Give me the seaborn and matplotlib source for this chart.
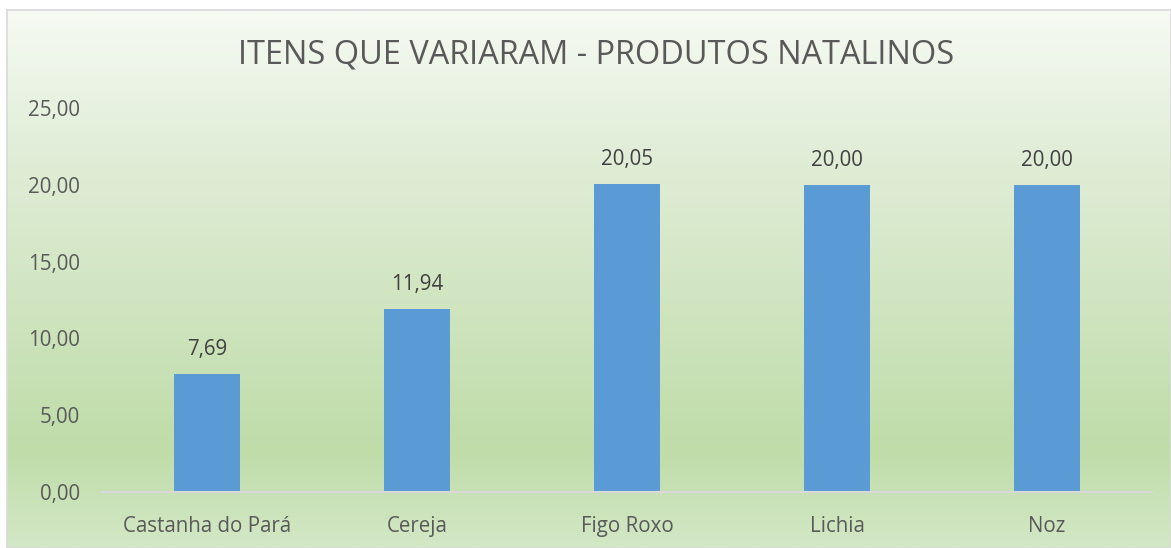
import numpy as np
import pandas as pd
import matplotlib
matplotlib.use("Agg")
import matplotlib.pyplot as plt
from matplotlib.colors import LinearSegmentedColormap
from matplotlib.ticker import FuncFormatter
import seaborn as sns

categories = ["Castanha do Pará", "Cereja", "Figo Roxo", "Lichia", "Noz"]
values = [7.69, 11.94, 20.05, 20.00, 20.00]
title = "ITENS QUE VARIARAM - PRODUTOS NATALINOS"

sns.set_theme(style="white")
plt.rcParams['font.family'] = ['Open Sans', 'DejaVu Sans']

W, H = 1171, 548
fig = plt.figure(figsize=(W / 100, H / 100), dpi=100)

# background gradient (chart area)
bg = fig.add_axes([7 / W, 0, 1 - 7 / W, 1 - 10 / H], zorder=-10)
cmap = LinearSegmentedColormap.from_list(
    "g", [(0.0, "#f6faf3"), (0.25, "#e2eed9"), (0.82, "#bfdca9"), (1.0, "#d3e8c6")])
grad = np.linspace(0, 1, 512).reshape(-1, 1)
bg.imshow(grad, aspect="auto", cmap=cmap, extent=[0, 1, 0, 1], origin="upper")
bg.set_xlim(0, 1)
bg.set_ylim(0, 1)
for s in bg.spines.values():
    s.set_edgecolor("#d9d9d9")
    s.set_linewidth(1.2)
bg.set_xticks([])
bg.set_yticks([])

ax = fig.add_axes([102 / W, 1 - 492 / H, 1050 / W, 384 / H])
ax.set_facecolor("none")
df = pd.DataFrame({"cat": categories, "val": values})
sns.barplot(data=df, x="cat", y="val", color="#5b9bd5", saturation=1, width=0.31,
            linewidth=0, edgecolor="none", ax=ax)

ax.set_ylim(0, 25)
ax.set_xlim(-0.5, 4.5)
ax.set_yticks(np.arange(0, 26, 5))
ax.yaxis.set_major_formatter(FuncFormatter(lambda v, p: f"{v:.2f}".replace(".", ",")))
ax.set_xlabel("")
ax.set_ylabel("")
for s in ["top", "right", "left"]:
    ax.spines[s].set_visible(False)
ax.spines["bottom"].set_color("#d9d9d9")
ax.spines["bottom"].set_linewidth(1.5)
ax.tick_params(axis="y", length=0, labelsize=14.8, labelcolor="#595959", pad=16)
ax.tick_params(axis="x", length=0, labelsize=14.8, labelcolor="#595959", pad=17)

for i, v in enumerate(values):
    ax.annotate(f"{v:.2f}".replace(".", ","), (i, v), xytext=(0, 10), textcoords="offset points",
                ha="center", va="bottom", fontsize=14.8, color="#404040")

fig.text(596 / W, 1 - 55 / H, title, ha="center", va="center", fontsize=23.4, color="#595959")

fig.savefig("out.png", dpi=100, facecolor="white")
